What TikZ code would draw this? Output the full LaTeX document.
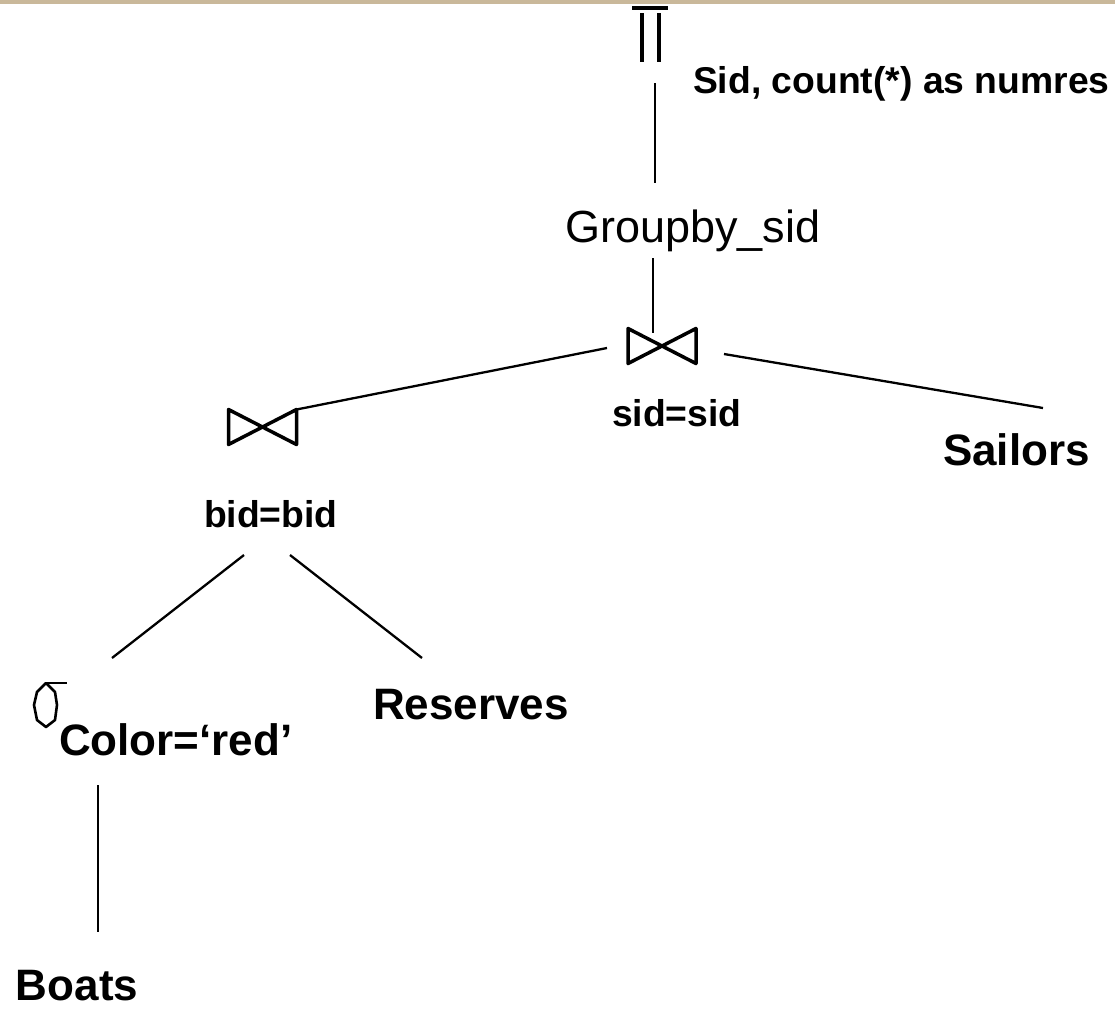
\documentclass[tikz,border=0pt]{standalone}
\usepackage{fontspec}
\setmainfont{Liberation Sans}
\definecolor{bandtan}{RGB}{201,184,154}
\tikzset{
  every node/.style={inner sep=0pt, outer sep=0pt},
  lbl/.style={anchor=base west, font=\fontsize{37.3}{40}\selectfont\bfseries},
  rel/.style={anchor=base west, font=\fontsize{44}{48}\selectfont\bfseries},
  opname/.style={anchor=base west, font=\fontsize{45}{50}\selectfont},
  edge/.style={line width=2.3pt},
  sym/.style={line width=3.5pt},
  joinbox/.style={minimum width=68pt, minimum height=35pt},
}
\begin{document}
\begin{tikzpicture}[x=1pt, y=-1pt]
\useasboundingbox (0,0) rectangle (1115,1010);
% thin band along the top edge
\fill[bandtan] (0,0) rectangle (1115,3.5);

% projection symbol
\node[minimum width=36pt, minimum height=54pt] (proj) at (650,36) {};
\draw[sym] (632,8) -- (668,8);
\draw[sym] (642,13) -- (642,62);
\draw[sym] (659,13) -- (659,62);
\node[lbl] (projattr) at (693,93) {Sid, count(*) as numres};

% grouping operator
\node[opname] (grp) at (565,242) {Groupby\_sid};

% upper join
\node[joinbox] (j1) at (662,346) {};
\draw[sym, line join=round] (j1.north west) -- (j1.south east) -- (j1.north east) -- (j1.south west) -- cycle;
\node[lbl] (j1cond) at (612,426) {sid=sid};

% lower join
\node[joinbox] (j2) at (262.5,427) {};
\draw[sym, line join=round] (j2.north west) -- (j2.south east) -- (j2.north east) -- (j2.south west) -- cycle;
\node[lbl] (j2cond) at (204,527) {bid=bid};

% base relations
\node[rel] (sailors) at (943,465) {Sailors};
\node[rel] (reserves) at (373,719) {Reserves};
\node[rel] (boats) at (16,1000) {Boats};

% selection symbol and its predicate
\node[minimum width=24pt, minimum height=44pt] (sel) at (46,705) {};
\draw[line width=2.6pt, line join=round] (46,683) -- (37,692) -- (34,705) -- (37,720) -- (46,727) -- (55,720) -- (57,705) -- (55,692) -- cycle;
\draw[line width=2.6pt] (46,683) -- (67,683);
\node[rel] (selcond) at (59,755) {Color=‘red’};

% connector end points
\coordinate (projB) at (655,83);
\coordinate (grpT) at (655,183);
\coordinate (grpB) at (653,258);
\coordinate (j1T) at (653,333);
\coordinate (j1L) at (607,348);
\coordinate (j2R) at (j2.north east);
\coordinate (j1R) at (724,354);
\coordinate (sailT) at (1043,408);
\coordinate (j2BL) at (244,555);
\coordinate (j2BR) at (290,555);
\coordinate (selT) at (112,658);
\coordinate (resT) at (422,658);
\coordinate (selB) at (98,785);
\coordinate (boatT) at (98,932);

% connectors
\draw[edge] (projB) -- (grpT);
\draw[edge] (grpB) -- (j1T);
\draw[edge] (j1L) -- (j2R);
\draw[edge] (j1R) -- (sailT);
\draw[edge] (j2BL) -- (selT);
\draw[edge] (j2BR) -- (resT);
\draw[edge] (selB) -- (boatT);
\end{tikzpicture}
\end{document}
